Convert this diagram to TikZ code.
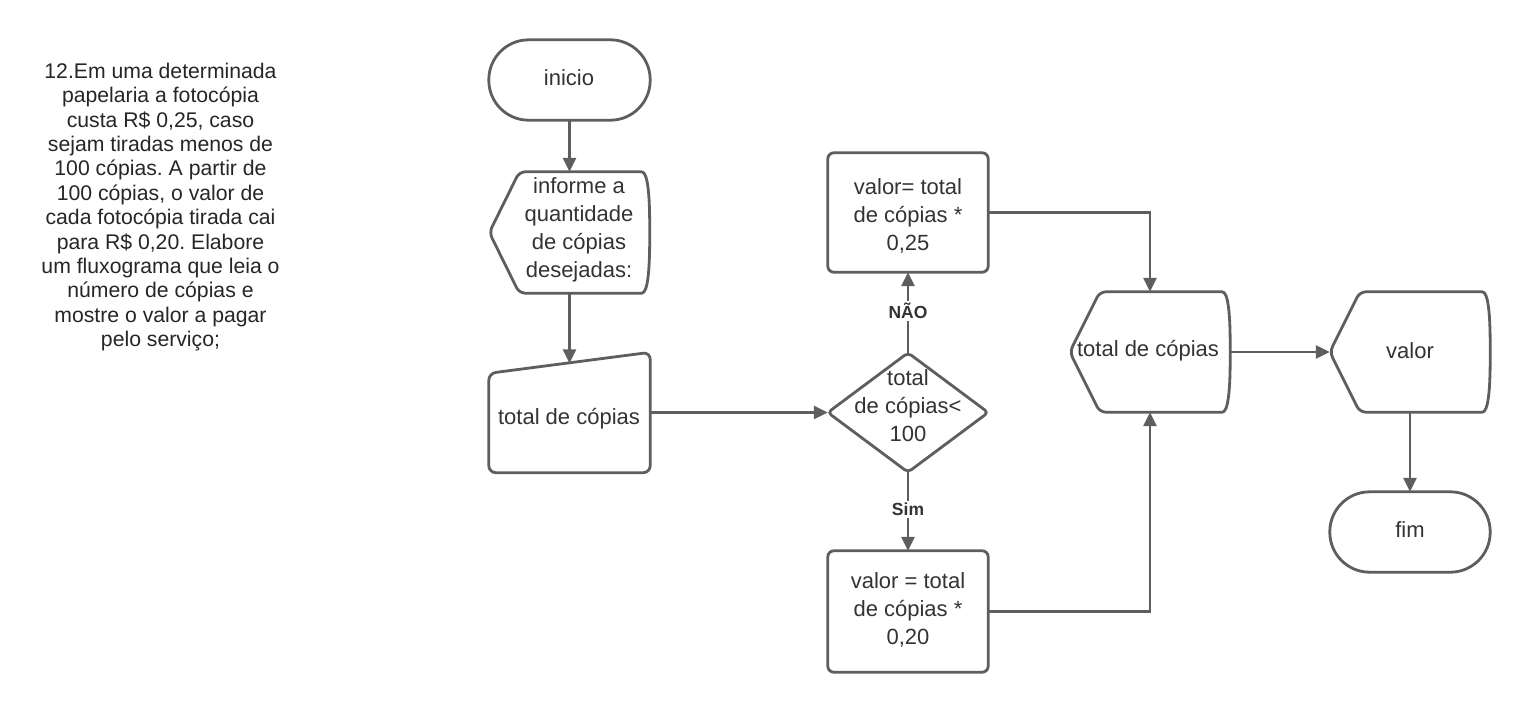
\documentclass[tikz,border=0pt]{standalone}
\usepackage{fontspec}
\setmainfont{Liberation Sans}
\usetikzlibrary{arrows.meta,calc}
\definecolor{edge}{HTML}{5E5E5E}
\definecolor{ink}{HTML}{333333}
\frenchspacing

% outline of a display symbol drawn around an (invisible) frame node
\newcommand\displayoutline[1]{%
  \draw[outline, rounded corners=6pt]
    ($(#1.north west)+(30,0)$) -- ($(#1.north east)+(-14,0)$)
    .. controls ($(#1.north east)+(-2,0)$) and ($(#1.east)+(0,-38)$) .. (#1.east)
    .. controls ($(#1.east)+(0,38)$) and ($(#1.south east)+(-2,0)$) .. ($(#1.south east)+(-14,0)$)
    -- ($(#1.south west)+(30,0)$) -- (#1.west) -- cycle;}

\begin{document}
\begin{tikzpicture}[x=1pt,y=-1pt,
  frame/.style={shape=rectangle, inner sep=0pt, minimum width=#1},
  label/.style={text=ink, inner sep=0pt, align=center, font=\fontsize{22}{28}\selectfont},
  outline/.style={draw=edge, line width=2.8pt, line join=round},
  flow/.style={draw=edge, line width=2.8pt, -{Triangle[length=14pt,width=13pt]}},
  tag/.style={fill=white, text=ink, inner sep=2pt, font=\bfseries\fontsize{17.5}{19}\selectfont}]

\useasboundingbox[fill=white] (0,0) rectangle (1529,713);

% problem statement
\node[text=black!85, align=center, font=\fontsize{21.2}{24.4}\selectfont] (enun) at (160.5,207)
  {12.Em uma determinada\\papelaria a fotocópia\\custa R\$ 0,25, caso\\sejam tiradas menos de\\
   100 cópias. A partir de\\100 cópias, o valor de\\cada fotocópia tirada cai\\para R\$ 0,20. Elabore\\
   um fluxograma que leia o\\número de cópias e\\mostre o valor a pagar\\pelo serviço;};

% frames of the symbols
\node[frame=161pt, minimum height=80pt] (ini) at (569.5,80) {};
\node[frame=160pt, minimum height=121pt] (inf) at (569.5,232.5) {};
\node[frame=161pt, minimum height=120pt] (tot) at (569.5,412.5) {};
\coordinate (totTop) at (569.5,363.3);
\node[frame=160pt, minimum height=119pt] (dec) at (908,412.5) {};
\node[frame=160pt, minimum height=119pt] (v25) at (908,212.5) {};
\node[frame=160pt, minimum height=121pt] (v20) at (908,611.5) {};
\node[frame=160pt, minimum height=120pt] (dtot) at (1150,352) {};
\node[frame=160pt, minimum height=120pt] (dval) at (1410,352) {};
\node[frame=160pt, minimum height=80pt] (fim) at (1410,532) {};

% outlines
\draw[outline, rounded corners=39.9pt] (ini.north west) rectangle (ini.south east);
\displayoutline{inf}
\draw[outline, rounded corners=7pt] (tot.south west) -- ($(tot.north west)+(0,21)$)
  -- (tot.north east) -- (tot.south east) -- cycle;
\draw[outline, rounded corners=4pt] (dec.west) -- (dec.north) -- (dec.east) -- (dec.south) -- cycle;
\draw[outline, rounded corners=6pt] (v25.north west) rectangle (v25.south east);
\draw[outline, rounded corners=6pt] (v20.north west) rectangle (v20.south east);
\displayoutline{dtot}
\displayoutline{dval}
\draw[outline, rounded corners=39.9pt] (fim.north west) rectangle (fim.south east);

% texts
\node[label] (iniText) at (569,78) {inicio};
\node[label] (infText) at (579,230) {informe a\\quantidade\\de cópias\\desejadas:};
\node[label] (totText) at (569,419) {total de cópias};
\node[label] (decText) at (908,406) {total\\de cópias<\\100};
\node[label] (v25Text) at (908,216) {valor= total\\de cópias *\\0,25};
\node[label] (v20Text) at (908,610) {valor = total\\de cópias *\\0,20};
\node[label] (dtotText) at (1148,351) {total de cópias};
\node[label] (dvalText) at (1410,351) {valor};
\node[label] (fimText) at (1410,530) {fim};

% connectors
\draw[flow] (ini.south) -- (inf.north);
\draw[flow] (inf.south) -- (totTop);
\draw[flow] (tot.east) -- (dec.west);
\draw[flow] (dec.north) -- node[tag, yshift=1.5pt] {NÃO} (v25.south);
\draw[flow] (dec.south) -- node[tag, yshift=2pt] {Sim} (v20.north);
\draw[flow] (v25.east) -| (dtot.north);
\draw[flow] (v20.east) -| (dtot.south);
\draw[flow] (dtot.east) -- (dval.west);
\draw[flow] (dval.south) -- (fim.north);
\end{tikzpicture}
\end{document}
